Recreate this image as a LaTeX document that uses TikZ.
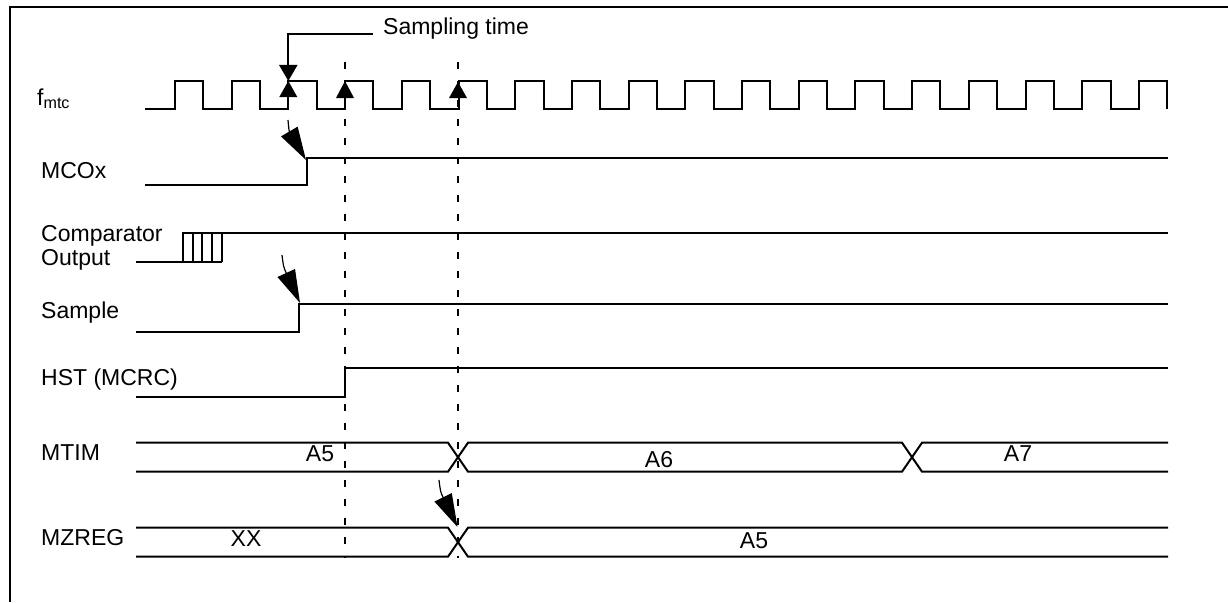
\documentclass[tikz,border=0pt]{standalone}
\usepackage{fontspec}
\setmainfont{Liberation Sans}
\usetikzlibrary{arrows.meta}
\begin{document}
\begin{tikzpicture}[x=1pt,y=-1pt,line join=miter,
  txt/.style={inner sep=0pt,font=\fontsize{23}{27}\selectfont},
  lbl/.style={txt,anchor=base west},
  blbl/.style={txt,anchor=base},
  sig/.style={line width=2pt},
  frame/.style={line width=2pt},
  guide/.style={line width=2pt,dash pattern=on 7pt off 12pt},
  bigarrow/.style={line width=1.2pt,-{Triangle[length=33pt,width=19pt]}},
  edgearrow/.style={line width=2pt,-{Triangle[length=16pt,width=18pt]}},
  uptri/.style={fill=black}
]
\useasboundingbox (0,0) rectangle (1228,602);
% frame (left and top edges)
\draw[frame] (10,602) -- (10,7) -- (1228,7);

% labels
\node[lbl] (lf) at (37,105) {f\textsubscript{mtc}};
\node[lbl] (lm) at (41,178) {MCOx};
\node[lbl] (lc) at (41,241.7) {Comparator};
\node[lbl] (lc2) at (41,265) {Output};
\node[lbl] (ls) at (41,318) {Sample};
\node[lbl] (lh) at (41,385) {HST (MCRC)};
\node[lbl] (lt) at (41,460) {MTIM};
\node[lbl] (lz) at (41,545) {MZREG};
\node[lbl] (st) at (383,35) {Sampling time};

% clock
\draw[sig] (145,108.7) foreach \k in {0,...,17}{
  -- ({175+56.7*\k},108.7) -- ({175+56.7*\k},81)
  -- ({203.35+56.7*\k},81) -- ({203.35+56.7*\k},108.7) };

% MCOx
\draw[sig] (145,185) -- (306.7,185) -- (306.7,158) -- (1168,158);
% Comparator output
\draw[sig] (136,261.7) -- (221.7,261.7);
\draw[sig] (183,261.7) -- (183,232.7) -- (1168,232.7);
\foreach \x in {192.7,201.7,211.7,221.7} \draw[sig] (\x,261.7) -- (\x,232.7);
% Sample
\draw[sig] (136,332.3) -- (299,332.3) -- (299,304) -- (1168,304);
% HST
\draw[sig] (136,396.7) -- (345,396.7) -- (345,367.7) -- (1168,367.7);
% MTIM bus
\draw[sig] (136,442.7) -- (448,442.7) -- (468,471.7) -- (902,471.7) -- (922,442.7) -- (1168,442.7);
\draw[sig] (136,471.7) -- (448,471.7) -- (468,442.7) -- (902,442.7) -- (922,471.7) -- (1168,471.7);
% MZREG bus
\draw[sig] (136,527.7) -- (448,527.7) -- (468,556.7) -- (1168,556.7);
\draw[sig] (136,556.7) -- (448,556.7) -- (468,527.7) -- (1168,527.7);

% bus values
\node[blbl] (a5) at (320,461.7) {A5};
\node[blbl] (a6) at (659,467) {A6};
\node[blbl] (a7) at (1018,461.7) {A7};
\node[blbl] (xx) at (246,546.7) {XX};
\node[blbl] (b5) at (754,548) {A5};

% dashed guides
\coordinate (g1t) at (345,62);  \coordinate (g1b) at (345,558);
\coordinate (g2t) at (458,62); \coordinate (g2b) at (458,558);
\draw[guide] (g1t) -- (g1b);
\draw[guide] (g2t) -- (g2b);

% sampling time pointer
\coordinate (stL) at (373,34.3);
\coordinate (e0) at (288.3,81);
\draw[edgearrow] (stL) -| (e0);
% upward edge markers
\fill[uptri] (288.3,81) -- (279.3,97) -- (297.3,97) -- cycle;
\fill[uptri] (345,81) -- (336,98) -- (354,98) -- cycle;
\fill[uptri] (458,82) -- (449,98) -- (467,98) -- cycle;

% causal arrows
\coordinate (m1s) at (288,120); \coordinate (m1c) at (289,131); \coordinate (m1e) at (306,160);
\draw[bigarrow] (m1s) .. controls (m1c) .. (m1e);
\coordinate (m2s) at (282,255); \coordinate (m2c) at (283.5,267); \coordinate (m2e) at (300,303);
\draw[bigarrow] (m2s) .. controls (m2c) .. (m2e);
\coordinate (m3s) at (439,480); \coordinate (m3c) at (440.5,492); \coordinate (m3e) at (457.5,527);
\draw[bigarrow] (m3s) .. controls (m3c) .. (m3e);
\end{tikzpicture}
\end{document}
